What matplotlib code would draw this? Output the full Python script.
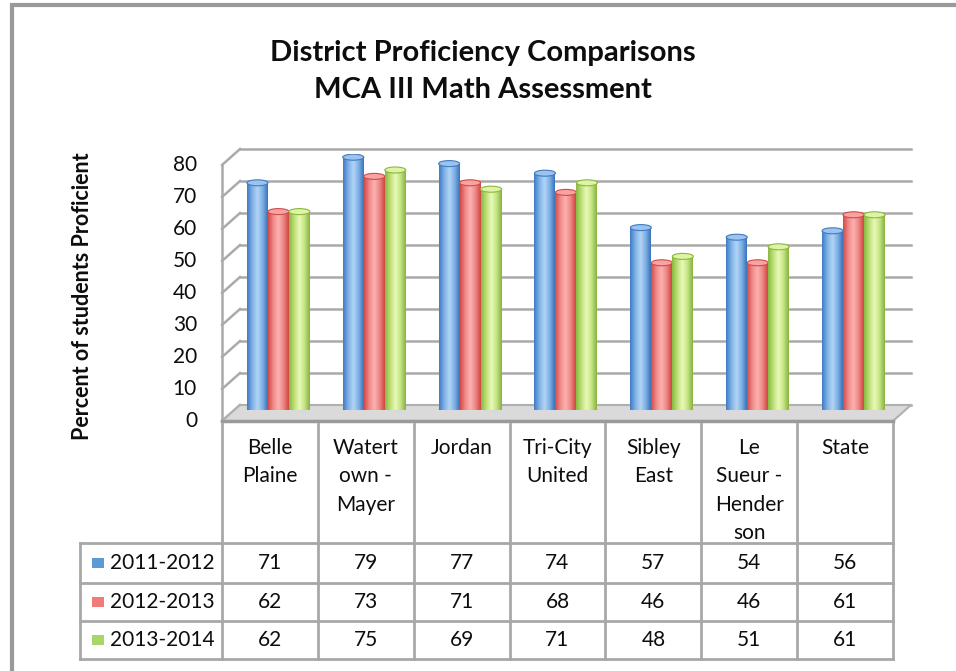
import matplotlib

matplotlib.use("Agg")
import matplotlib.pyplot as plt
import numpy as np
from matplotlib.colors import LinearSegmentedColormap
from matplotlib.patches import Ellipse, Polygon, Rectangle

districts = ["Belle\nPlaine", "Watert\nown -\nMayer", "Jordan", "Tri-City\nUnited",
             "Sibley\nEast", "Le\nSueur -\nHender\nson", "State"]
years = ["2011-2012", "2012-2013", "2013-2014"]
pct_2011 = [71, 79, 77, 74, 57, 54, 56]
pct_2012 = [62, 73, 71, 68, 46, 46, 61]
pct_2013 = [62, 75, 69, 71, 48, 51, 61]
yticks = [0, 10, 20, 30, 40, 50, 60, 70, 80]

series = [pct_2011, pct_2012, pct_2013]
# dark edge, highlight, mid, dark edge
shades = [
    ["#3f7cc2", "#7fb0e6", "#b3d5f6", "#7fb0e6", "#3a74b8"],
    ["#d24a48", "#f08a88", "#fbb3b1", "#ee8583", "#cf4744"],
    ["#8ab83f", "#bde07a", "#e9f9b6", "#c4e386", "#86b43b"],
]
tops = ["#9cc3ee", "#f7a3a1", "#dff3a4"]
keys = ["#5b9bd5", "#f07c7a", "#a9d66a"]

W, H = 956, 671
plt.rcParams["font.family"] = ["Lato", "DejaVu Sans"]
fig = plt.figure(figsize=(W / 100, H / 100), dpi=100)
txt = "#0d0d0d"


def px(x0, y0, w, h):
    return [x0 / W, 1 - (y0 + h) / H, w / W, h / H]


# overlay in pixel units for frame and data table
tab = fig.add_axes([0, 0, 1, 1])
tab.set_xlim(0, W)
tab.set_ylim(H, 0)
tab.axis("off")
tab.plot([12, 12, W], [H, 5, 5], color="#9a9a9a", lw=3, solid_joinstyle="miter")

# main axes: bar plane, y=0 at pixel 410, 80 at 154
ax = fig.add_axes(px(222, 154, 671, 256))
ux = 671 / 7
uy = 256 / 80
back_dx, back_dy = 18 / ux, 5 / uy
front_dy = -11 / uy
bar_dx = 8.5 / ux
n = len(districts)
grid_c = "#aaaaaa"

# back wall and left side wall
for v in yticks:
    ax.plot([back_dx, n + back_dx], [v + back_dy, v + back_dy], color=grid_c, lw=1.8, clip_on=False, zorder=1)
    ax.plot([0, back_dx], [v + front_dy, v + back_dy], color=grid_c, lw=1.8, clip_on=False, zorder=1)
ax.plot([0, 0], [front_dy, 80 + front_dy], color=grid_c, lw=1.8, clip_on=False, zorder=1)

# floor
floor = Polygon([(0, front_dy), (n, front_dy), (n + back_dx, back_dy), (back_dx, back_dy)],
                closed=True, facecolor="#dadada", edgecolor="#b0b0b0", lw=1.5, clip_on=False, zorder=2)
ax.add_patch(floor)
ax.plot([0, n], [front_dy, front_dy], color="#9a9a9a", lw=2.5, clip_on=False, zorder=2)

# cylinder bars
bw = 21 / ux
grad = np.linspace(0, 1, 64).reshape(1, -1)
for s, vals in enumerate(series):
    cmap = LinearSegmentedColormap.from_list(f"c{s}", shades[s])
    xs = np.arange(n) + 0.5 + bar_dx + (s - 1) * bw
    bars = ax.bar(xs, vals, width=bw, color=shades[s][1], lw=0, zorder=3 + s)
    for x, v, b in zip(xs, vals, bars):
        ax.add_patch(Ellipse((x, 0), bw, 6 / uy, facecolor=shades[s][0], lw=0, zorder=3 + s))
        im = ax.imshow(grad, extent=(x - bw / 2, x + bw / 2, 0, v), aspect="auto", cmap=cmap,
                       zorder=3 + s, interpolation="bilinear")
        im.set_clip_path(b)
        ax.add_patch(Ellipse((x, v), bw, 6 / uy, facecolor=tops[s], edgecolor=shades[s][0],
                             lw=0.8, zorder=3 + s))

# y tick labels on the front plane
for v in yticks:
    ax.text(-25 / ux, v + front_dy, str(v), ha="right", va="center", fontsize=15, color=txt)

ax.set_xlim(0, n)
ax.set_ylim(0, 80)
ax.axis("off")

# data table
col_x = [222 + i * ux for i in range(n + 1)]
row_y = [543, 583, 621, 659]
tc = "#a8a8a8"
for x in col_x:
    tab.plot([x, x], [424, row_y[-1]], color=tc, lw=2)
tab.plot([80, 80], [row_y[0], row_y[-1]], color=tc, lw=2)
for y in row_y:
    tab.plot([80, col_x[-1]], [y, y], color=tc, lw=2)

for i, name in enumerate(districts):
    cx = (col_x[i] + col_x[i + 1]) / 2
    tab.text(cx, 438, name, ha="center", va="top", fontsize=15, linespacing=1.52, color=txt)

for s, vals in enumerate(series):
    cy = (row_y[s] + row_y[s + 1]) / 2
    tab.add_patch(Rectangle((92, cy - 5), 12, 10, facecolor=keys[s], edgecolor="none"))
    tab.text(110, cy, years[s], ha="left", va="center", fontsize=15, color=txt)
    for i, v in enumerate(vals):
        cx = (col_x[i] + col_x[i + 1]) / 2
        tab.text(cx, cy, str(v), ha="center", va="center", fontsize=15, color=txt)

# titles
tab.text(483, 53, "District Proficiency Comparisons", ha="center", va="center",
         fontsize=21, fontweight="bold", color=txt)
tab.text(483, 90, "MCA III Math Assessment", ha="center", va="center",
         fontsize=21, fontweight="bold", color=txt)
tab.text(83, 296, "Percent of students Proficient", ha="center", va="center", rotation=90,
         fontsize=15.5, fontweight="bold", color=txt)

fig.savefig("out.png", dpi=100)
plt.close(fig)
